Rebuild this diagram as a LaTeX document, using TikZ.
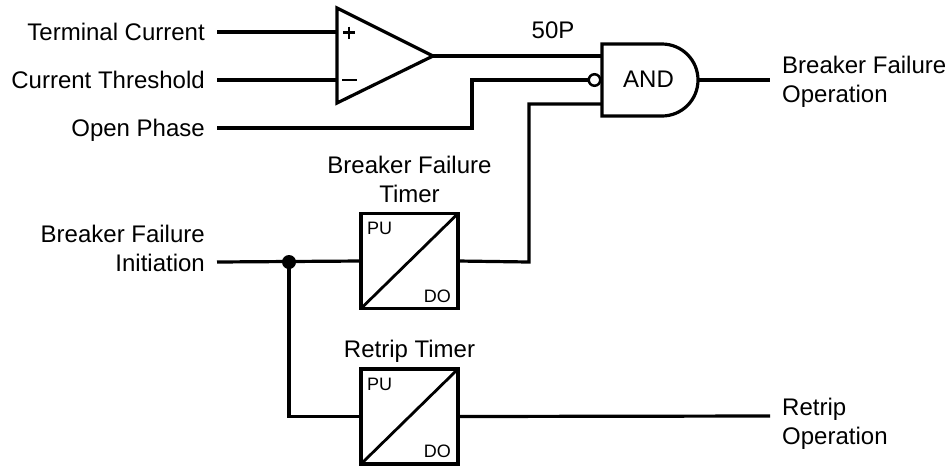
\documentclass[tikz,border=0pt]{standalone}
\usepackage{fontspec}
\setmainfont{Liberation Sans}
\begin{document}
\begin{tikzpicture}[x=1pt,y=-1pt,
  wire/.style={line width=3.2pt, line join=miter},
  lbl/.style={font=\fontsize{24}{29}\selectfont, inner sep=0pt},
  small/.style={font=\fontsize{18}{21}\selectfont, inner sep=0pt},
  timerbox/.style={draw, line width=3.4pt, minimum width=97pt, minimum height=95pt, inner sep=0pt, outer sep=0pt},
  diag/.style={line width=2.8pt},
  sign/.style={line width=2.2pt},
]
\useasboundingbox (0,0) rectangle (949,467);

% text labels
\node[lbl, anchor=base east] (tc) at (205,40) {Terminal Current};
\node[lbl, anchor=base east] (ct) at (205,88) {Current Threshold};
\node[lbl, anchor=base east] (op) at (205,136) {Open Phase};
\node[lbl, anchor=north east, align=right] (bfi) at (205,224.6) {Breaker Failure\\Initiation};
\node[lbl, anchor=north west, align=left] (bfo) at (782,55.6) {Breaker Failure\\Operation};
\node[lbl, anchor=north west, align=left] (ro) at (782,397.6) {Retrip\\Operation};
\node[lbl, anchor=base] (p50) at (553,38) {50P};

% line start/end coordinates
\coordinate (tcL) at (217,32);
\coordinate (ctL) at (217,80);
\coordinate (opL) at (217,128);
\coordinate (bfiL) at (217,262);
\coordinate (bfoR) at (770,80);
\coordinate (roR) at (770,416);
\coordinate (opC) at (472,128);
\coordinate (bfC) at (529,262);

% comparator
\draw[wire] (337,8) -- (337,103) -- (433,56) -- cycle;
\coordinate (ampP) at (337,32);
\coordinate (ampM) at (337,80);
\coordinate (ampO) at (433,56);
\draw[sign] (343,32.5) -- (355,32.5) (349,26.5) -- (349,38.5);
\draw[sign] (342,80) -- (357,80);

% AND gate
\draw[wire] (602,44) -- (662,44) .. controls (681.88,44) and (698,60.12) .. (698,80)
  .. controls (698,99.88) and (681.88,116) .. (662,116) -- (602,116) -- cycle;
\node[lbl] (andlbl) at (648.5,79.5) {AND};
\coordinate (andA) at (602,56);
\coordinate (andC) at (602,104);
\coordinate (andO) at (698,80);
\node[draw, circle, line width=2.5pt, minimum size=11.5pt, inner sep=0pt, outer sep=0pt] (bub) at (594.5,80) {};

% timers
\node[timerbox] (bft) at (409.5,261) {};
\draw[diag] (bft.south west) -- (bft.north east);
\node[small, anchor=north west] (bfpu) at (367,222) {PU};
\node[small, anchor=south east] (bfdo) at (451,302.5) {DO};
\node[lbl, anchor=south, align=center] (bftl) at (409.5,203) {Breaker Failure\\Timer};

\node[timerbox] (rt) at (409.5,416.5) {};
\draw[diag] (rt.south west) -- (rt.north east);
\node[small, anchor=north west] (rtpu) at (367,377.5) {PU};
\node[small, anchor=south east] (rtdo) at (451,458) {DO};
\node[lbl, anchor=base] (rtl) at (409.5,357) {Retrip Timer};

% junction
\node[circle, fill, inner sep=0pt, minimum size=14pt] (dot) at (289,262) {};

% connectors
\draw[wire] (tcL) -- (ampP);
\draw[wire] (ctL) -- (ampM);
\draw[wire] (ampO) -- (andA);
\draw[wire] (opL) -- (opC) |- (bub.west);
\draw[wire] (bfiL) -- (bft.west);
\draw[wire] (bft.east) -- (bfC) |- (andC);
\draw[wire] (dot.center) |- (rt.west);
\draw[wire] (rt.east) -- (roR);
\draw[wire] (andO) -- (bfoR);
\end{tikzpicture}
\end{document}
